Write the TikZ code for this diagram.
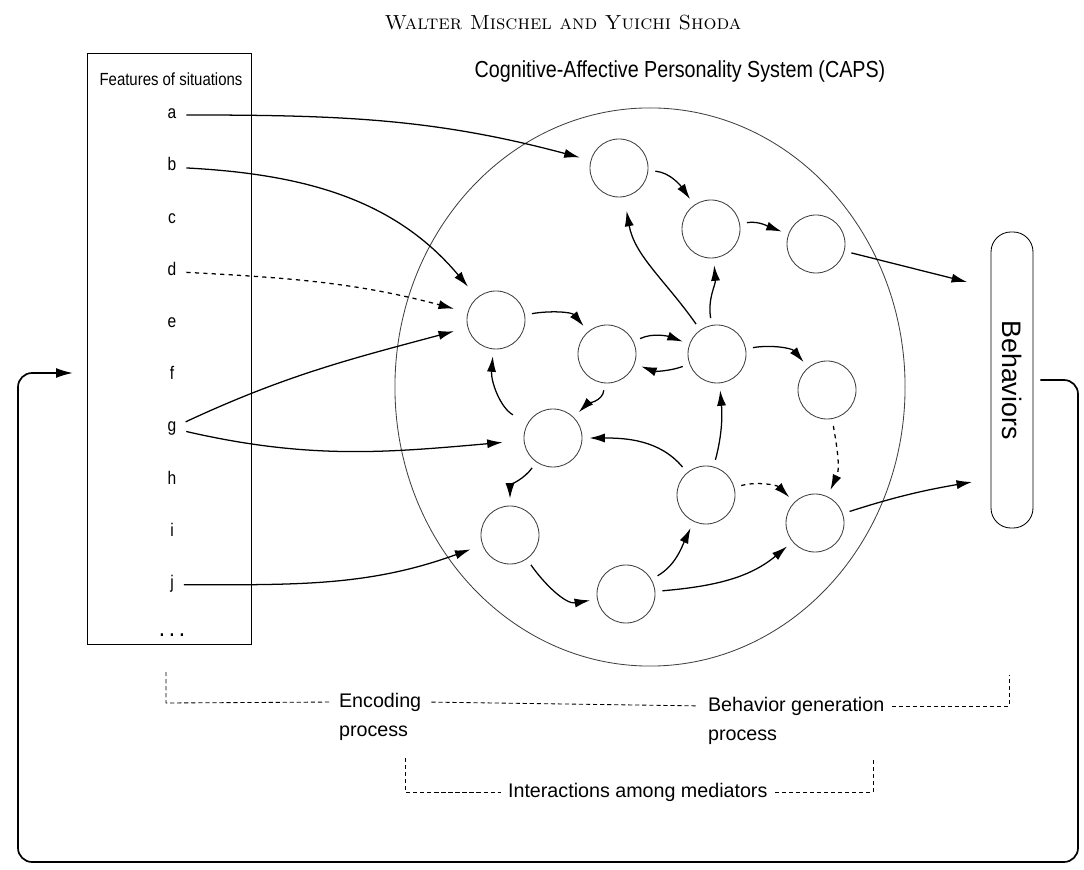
\documentclass[tikz,border=0pt]{standalone}
\usepackage{fontspec}
\setsansfont{Liberation Sans}
\newfontfamily\narrowsf{Liberation Sans}[FakeStretch=0.85]
\usetikzlibrary{arrows.meta,positioning}

\tikzset{
  med/.style={circle, draw=black!75, line width=0.6pt, minimum size=1.45cm, inner sep=0pt},
  link/.style={-{Latex[length=11pt,width=6.5pt]}, line width=0.9pt, shorten >=5pt, shorten <=5pt},
  inlink/.style={link, shorten >=10pt, shorten <=6pt},
  feat/.style={font=\narrowsf\fontsize{13}{15}\selectfont, inner sep=1pt, text height=1.6ex, text depth=0.4ex},
  brack/.style={dash pattern=on 3pt off 2pt, line width=0.6pt},
  lbl/.style={font=\sffamily\fontsize{14}{16}\selectfont, inner sep=2pt}
}

\begin{document}
\begin{tikzpicture}[x=0.025cm, y=0.025cm]
    \useasboundingbox (0,0) rectangle (1084,869);

    % headings
    \node (author) at (563,846) {\fontsize{14.5}{16}\selectfont\textsc{Walter Mischel and Yuichi Shoda}};
    \node[font=\narrowsf\fontsize{16.5}{18}\selectfont] (capstitle) at (680,797) {Cognitive-Affective Personality System (CAPS)};

    % features of situations
    \node[draw, line width=0.6pt, minimum width=4.1cm, minimum height=14.75cm] (featbox) at (169,520) {};
    \node[font=\narrowsf\fontsize{12.5}{14}\selectfont] (feathead) at (171,790) {Features of situations};
    \foreach \l [count=\i from 0] in {a,b,c,d,e,f,g,h,i,j}
        \node[feat] (f\l) at (172,754-52.2*\i) {\l};
    \node[feat] (fdots) at (172,236) {\textbf{. . .}};

    % the CAPS system
    \draw[line width=0.6pt, black!75] (650,482) ellipse [x radius=6.375cm, y radius=6.975cm];
    \node[med] (m1) at (619,701) {};
    \node[med] (m2) at (711,640) {};
    \node[med] (m3) at (816,625) {};
    \node[med] (m4) at (496,549) {};
    \node[med] (m5) at (607,515) {};
    \node[med] (m6) at (717,515) {};
    \node[med] (m7) at (827,479) {};
    \node[med] (m8) at (553,431) {};
    \node[med] (m9) at (510,334) {};
    \node[med] (m10) at (626,275) {};
    \node[med] (m11) at (706,374) {};
    \node[med] (m12) at (815,346) {};

    % behaviors
    \node[draw, line width=0.6pt, rounded corners=0.5cm, minimum width=7.4cm, minimum height=1.05cm,
          rotate=-90, font=\sffamily\fontsize{19}{21}\selectfont] (beh) at (1012,489) {Behaviors};
    \coordinate (behA) at (967,587);
    \coordinate (behB) at (972,387);

    % encoding
    \draw[inlink, shorten >=8pt] (fa) to[out=0,in=165] (m1);
    \draw[inlink] (fb) to[out=-3,in=130] (m4);
    \draw[inlink, dashed] (fd) to[out=-3,in=165] (m4);
    \draw[inlink] (fg) to[out=25,in=195] (m4);
    \draw[inlink, shorten >=15pt] (fg) to[out=-13,in=185] (m8);
    \draw[inlink, shorten >=9pt] (fj) to[out=0,in=200] (m9);

    % interactions among mediators
    \draw[link] (m1) to[out=-5,in=125] (m2);
    \draw[link] (m2) to[out=10,in=160] (m3);
    \draw[link] (m4) to[out=10,in=130] (m5);
    \draw[link] (m5) to[out=25,in=160] (m6);
    \draw[link] (m6) to[out=200,in=-20] (m5);
    \draw[link, shorten >=10pt] (m6) to[out=125,in=-80] (m1);
    \draw[link] (m6) to[out=100,in=-85] (m2);
    \draw[link] (m6) to[out=10,in=130] (m7);
    \draw[link] (m5) to[out=-95,in=45] (m8);
    \draw[link, shorten <=12pt] (m8) to[out=150,in=265] (m4);
    \draw[link] (m8) to[out=235,in=90] (m9);
    \draw[link] (m11) to[out=130,in=0] (m8);
    \draw[link] (m11) to[out=75,in=275] (m6);
    \draw[link, dashed] (m11) to[out=15,in=135] (m12);
    \draw[link, dashed] (m7) to[out=-80,in=65] (m12);
    \draw[link] (m9) to[out=-55,in=190] (m10);
    \draw[link] (m10) to[out=30,in=245] (m11);
    \draw[link] (m10) to[out=5,in=220] (m12);

    % behavior generation
    \draw[link, shorten >=0pt] (m3) -- (behA);
    \draw[link, shorten >=0pt] (m12) to[bend left=4] (behB);

    % feedback to situations
    \coordinate (fbin) at (73,496);
    \draw[line width=1.2pt, -{Latex[length=12pt,width=7pt]}, rounded corners=10pt]
        ([xshift=5pt]beh.north) -- (1078,489) -- (1078,7) -- (18,7) -- (18,496) -- (fbin);

    % process brackets
    \node[lbl, anchor=west] (enc) at (336,167) {Encoding};
    \node[lbl, anchor=west] (encp) at (336,136) {process};
    \node[lbl, anchor=west] (bgen) at (705,163) {Behavior generation};
    \node[lbl, anchor=west] (bgenp) at (705,132) {process};
    \node[lbl, anchor=west] (inter) at (505,77) {Interactions among mediators};
    \coordinate (encL) at (166,197);
    \coordinate (bgenR) at (1009,194);
    \coordinate (interL) at (405,111);
    \coordinate (interR) at (873,109);
    \draw[brack, shorten >=3pt] (encL) -- (166,166) -- (enc.west);
    \draw[brack, shorten <=5pt, shorten >=5pt] (enc.east) -- (bgen.west);
    \draw[brack, shorten <=3pt] (bgen.east) -- (1009,163) -- (bgenR);
    \draw[brack, shorten >=3pt] (interL) -- (405,77) -- (inter.west);
    \draw[brack, shorten <=3pt] (inter.east) -- (873,77) -- (interR);
\end{tikzpicture}
\end{document}
